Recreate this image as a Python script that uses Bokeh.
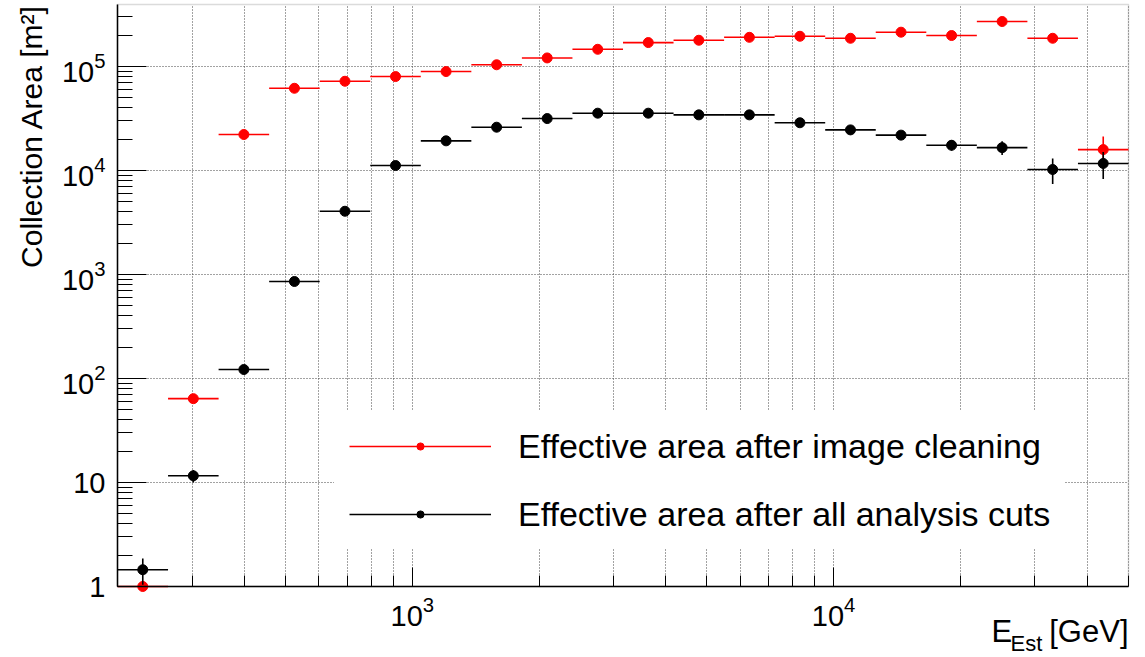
import numpy as np
from bokeh.plotting import figure
from bokeh.models import (FixedTicker, LogTickFormatter, Label, Legend, LegendItem,
                          ColumnDataSource, Range1d, BoxAnnotation, Grid)
from bokeh.embed import file_html
from bokeh.resources import INLINE

# ---- data ----
# estimated-energy bin edges [GeV]
energy_edges = [199.53, 263.03, 346.74, 457.09, 602.56, 794.33, 1047.13, 1380.38,
                1819.70, 2398.83, 3162.28, 4168.69, 5495.41, 7244.36, 9549.93,
                12589.25, 16595.87, 21877.62, 28840.32, 38018.94, 50118.72]

# effective area after image cleaning [m^2]
area_cleaning = [1.0, 64, 22200, 61800, 72200, 80100, 89500, 104000, 121000, 146500,
                 170000, 179000, 191000, 195500, 187000, 214000, 198700, 271000,
                 187000, 15900]
err_cleaning = [0.0, 3, 300, 600, 700, 800, 900, 1000, 1100, 1300,
                1500, 1700, 2000, 2300, 2600, 3200, 3800, 5000, 6000, 5400]

# effective area after all analysis cuts [m^2]
area_cuts = [1.45, 11.6, 122, 857, 4060, 11170, 19300, 26100, 31600, 35600,
             35600, 34300, 34300, 28800, 24600, 21900, 17500, 16600, 10230, 11700]
err_cuts = [0.41, 1.6, 8, 40, 120, 250, 350, 450, 550, 650,
            700, 750, 800, 850, 900, 1000, 2000, 2500, 2800, 3400]

label_cleaning = "Effective area after image cleaning"
label_cuts = "Effective area after all analysis cuts"

FONT = "Liberation Sans"
W, H = 1145, 657

# ---- axis box (data limits and where they sit on the page) ----
X0, X1 = energy_edges[0], energy_edges[-1]
Y0, Y1 = 1.0, 3.95e5
PX_L, PX_R, PX_T, PX_B = 117, 1128, 4, 586   # page pixels of the axis box

lx0, lx1 = np.log10(X0), np.log10(X1)
ly0, ly1 = np.log10(Y0), np.log10(Y1)
dx = (lx1 - lx0) / (PX_R - PX_L)
dy = (ly1 - ly0) / (PX_B - PX_T)
x_range = Range1d(10 ** (lx0 - PX_L * dx), 10 ** (lx1 + (W - PX_R) * dx))
y_range = Range1d(10 ** (ly0 - (H - PX_B) * dy), 10 ** (ly1 + PX_T * dy))

lo = np.array(energy_edges[:-1])
hi = np.array(energy_edges[1:])
centre = np.sqrt(lo * hi)


def make_source(vals, errs):
    v = np.array(vals, dtype=float)
    e = np.array(errs, dtype=float)
    return ColumnDataSource(dict(x=centre, lo=lo, hi=hi, y=v,
                                 ylo=np.maximum(v - e, 1e-3), yhi=v + e))


src_clean = make_source(area_cleaning, err_cleaning)
src_cuts = make_source(area_cuts, err_cuts)

p = figure(width=W, height=H, x_axis_type="log", y_axis_type="log",
           x_range=x_range, y_range=y_range,
           output_backend="svg", toolbar_location=None, min_border=0)
p.background_fill_color = "white"
p.border_fill_color = "white"
p.outline_line_color = None

# frame of the axis box (top/right grey, left/bottom drawn by the axes)
p.add_layout(BoxAnnotation(left=X0, right=X1, bottom=Y0, top=Y1,
                           fill_alpha=0, line_color="#888888", line_width=1.5,
                           level="underlay"))

# ---- ticks ----
x_major = [1e3, 1e4]
x_minor = [m * 10 ** k for k in (2, 3, 4) for m in range(2, 10) if m * 10 ** k <= X1]
y_major = [10.0 ** k for k in range(0, 6)]
y_minor = [m * 10 ** k for k in range(0, 6) for m in range(2, 10) if m * 10 ** k <= Y1]
xt = FixedTicker(ticks=x_major, minor_ticks=x_minor)
yt = FixedTicker(ticks=y_major, minor_ticks=y_minor)
p.xaxis.ticker = xt
p.yaxis.ticker = yt

p.xaxis.fixed_location = Y0
p.yaxis.fixed_location = X0
p.xaxis.bounds = (X0, X1)
p.yaxis.bounds = (Y0, Y1)

for ax in (p.xaxis, p.yaxis):
    ax.axis_line_color = "black"
    ax.axis_line_width = 1.5
    ax.major_tick_line_color = "black"
    ax.minor_tick_line_color = "black"
    ax.major_tick_out = 0
    ax.minor_tick_out = 0
    ax.major_label_text_font = FONT
    ax.major_label_text_color = "black"
    ax.formatter = LogTickFormatter()

p.xaxis.major_tick_in = 19
p.xaxis.minor_tick_in = 11
p.yaxis.major_tick_in = 29
p.yaxis.minor_tick_in = 15
p.xaxis.major_label_text_font_size = "29px"
p.yaxis.major_label_text_font_size = "29px"
p.xaxis.major_label_standoff = 9
p.yaxis.major_label_standoff = 12
p.yaxis.major_label_overrides = {1: "1", 10: "10"}

# ---- grid ----
GRID = "#444444"
if "cross_bounds" in Grid.properties():
    p.xgrid.ticker = xt
    p.ygrid.ticker = yt
    p.xgrid.cross_bounds = (Y0, Y1)
    p.ygrid.cross_bounds = (X0, X1)
    for g in (p.xgrid, p.ygrid):
        g.grid_line_color = GRID
        g.grid_line_dash = "1 2"
    p.xgrid.minor_grid_line_color = GRID
    p.xgrid.minor_grid_line_dash = "1 2"
    p.ygrid.minor_grid_line_color = None
else:
    p.xgrid.visible = False
    p.ygrid.visible = False
    gx = x_major + x_minor
    p.segment(x0=gx, x1=gx, y0=[Y0] * len(gx), y1=[Y1] * len(gx),
              line_color=GRID, line_dash="1 2", line_width=1, level="underlay")
    p.segment(x0=[X0] * len(y_major), x1=[X1] * len(y_major), y0=y_major, y1=y_major,
              line_color=GRID, line_dash="1 2", line_width=1, level="underlay")

# ---- data marks ----
RED = "#ff0000"
LW = 1.6
r_hc = p.segment(x0="lo", x1="hi", y0="y", y1="y", source=src_clean,
                 line_color=RED, line_width=LW)
p.segment(x0="x", x1="x", y0="ylo", y1="yhi", source=src_clean,
          line_color=RED, line_width=LW)
r_pc = p.scatter(x="x", y="y", source=src_clean, size=10, marker="circle",
                 fill_color=RED, line_color=RED)

r_hk = p.segment(x0="lo", x1="hi", y0="y", y1="y", source=src_cuts,
                 line_color="black", line_width=LW)
p.segment(x0="x", x1="x", y0="ylo", y1="yhi", source=src_cuts,
          line_color="black", line_width=LW)
r_pk = p.scatter(x="x", y="y", source=src_cuts, size=10, marker="circle",
                 fill_color="black", line_color="black")

# ---- legend ----
legend = Legend(items=[LegendItem(label=label_cleaning, renderers=[r_hc, r_pc]),
                       LegendItem(label=label_cuts, renderers=[r_hk, r_pk])],
                location=(334, H - 549), padding=14, spacing=28,
                glyph_width=142, glyph_height=18, label_height=40,
                label_standoff=27, label_text_font=FONT,
                label_text_font_size="34px", label_text_color="black",
                background_fill_color="white", background_fill_alpha=1.0,
                border_line_color="white", border_line_width=1, margin=0)
p.add_layout(legend)

# ---- axis titles ----
SHIFT = 12  # compensates the text box offset of the label baseline
p.add_layout(Label(x=43 - SHIFT, y=H - 4, x_units="screen", y_units="screen",
                   text="Collection Area [m²]", angle=np.pi / 2,
                   text_align="right", text_baseline="alphabetic",
                   text_font=FONT, text_font_size="30px", text_color="black"))
p.add_layout(Label(x=991, y=H - 643 + SHIFT, x_units="screen", y_units="screen",
                   text="E", text_align="left", text_baseline="alphabetic",
                   text_font=FONT, text_font_size="31px", text_color="black"))
p.add_layout(Label(x=1010, y=H - 652 + 9, x_units="screen", y_units="screen",
                   text="Est", text_align="left", text_baseline="alphabetic",
                   text_font=FONT, text_font_size="22px", text_color="black"))
p.add_layout(Label(x=1128, y=H - 643 + SHIFT, x_units="screen", y_units="screen",
                   text="[GeV]", text_align="right", text_baseline="alphabetic",
                   text_font=FONT, text_font_size="31px", text_color="black"))

open("out.html", "w").write(file_html(p, INLINE))
